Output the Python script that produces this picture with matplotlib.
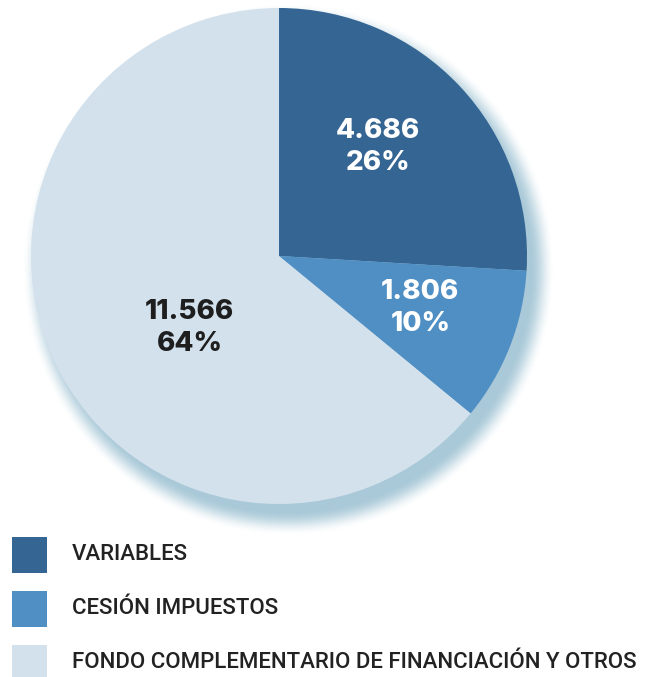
import numpy as np
import matplotlib.pyplot as plt
from matplotlib.patches import Rectangle

# data
categories = ["VARIABLES", "CESIÓN IMPUESTOS", "FONDO COMPLEMENTARIO DE FINANCIACIÓN Y OTROS"]
values = [4686, 1806, 11566]
value_labels = ["4.686", "1.806", "11.566"]
pct_labels = ["26%", "10%", "64%"]
colors = ["#346593", "#4f8fc4", "#d3e1ec"]
label_colors = ["white", "white", "#1e1e1e"]

W, H = 650, 677
fig = plt.figure(figsize=(W / 100, H / 100), dpi=100)

# pie placement in pixels
cx, cy, r = 279, 256, 248

# soft shadow behind the pie
bg = fig.add_axes([0, 0, 1, 1])
bg.set_xlim(0, W)
bg.set_ylim(H, 0)
bg.axis("off")
yy, xx = np.mgrid[0:H, 0:W]
d = np.hypot(xx - (cx + 9), yy - (cy + 13)) - (r + 6)
alpha = np.clip(0.5 - d / 24, 0, 1)
alpha = alpha * alpha * (3 - 2 * alpha)
shadow = np.zeros((H, W, 4))
shadow[..., :3] = np.array([0xa9, 0xc9, 0xd8]) / 255
shadow[..., 3] = alpha
bg.imshow(shadow, extent=(0, W, H, 0), interpolation="bilinear", zorder=0)

# legend drawn in pixel coordinates
for i, (cat, col) in enumerate(zip(categories, colors)):
    y0 = 537 + i * 54
    bg.add_patch(Rectangle((12, y0), 35, 36, color=col, lw=0, zorder=1))
    bg.text(72, y0 + 17, cat, fontsize=16, family="Roboto", fontweight="medium",
            color="#222222", va="center", ha="left", zorder=2)

ax = fig.add_axes([(cx - r) / W, (H - cy - r) / H, 2 * r / W, 2 * r / H])
wedges, _ = ax.pie(values, colors=colors, startangle=90, counterclock=False,
                   radius=1, wedgeprops=dict(linewidth=0))
ax.set_xlim(-1, 1)
ax.set_ylim(-1, 1)
ax.set_aspect("equal")
ax.axis("off")

label_pos = [(0.40, 0.44), (0.57, -0.21), (-0.36, -0.29)]
for (lx, ly), v, p, c in zip(label_pos, value_labels, pct_labels, label_colors):
    ax.text(lx, ly, v + "\n" + p, ha="center", va="center", fontsize=20,
            family="Inter", fontweight="heavy", color=c, linespacing=1.3)

fig.savefig("out.png", dpi=100)
